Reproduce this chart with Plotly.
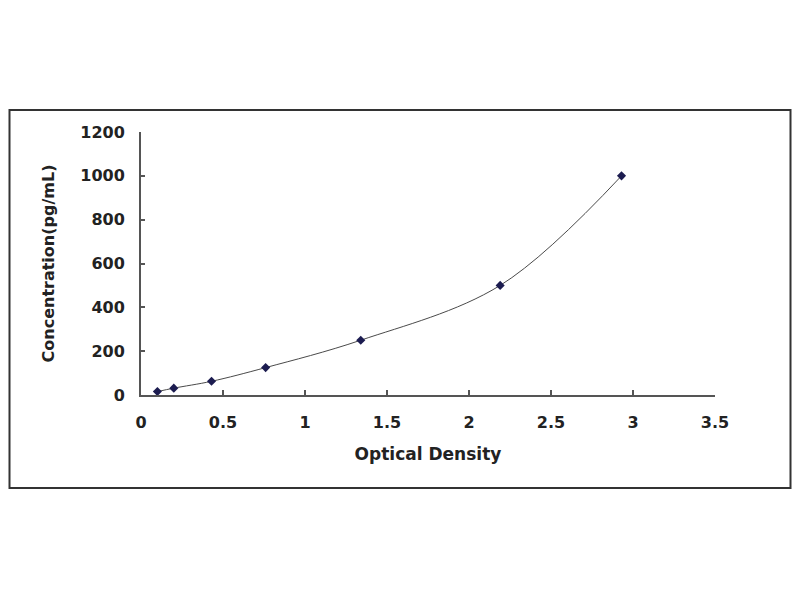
import plotly.graph_objects as go

od = [0.10, 0.20, 0.43, 0.76, 1.34, 2.19, 2.93]
conc = [15.6, 31.25, 62.5, 125, 250, 500, 1000]
x_ticks = [0, 0.5, 1, 1.5, 2, 2.5, 3, 3.5]
x_labels = ["0", "0.5", "1", "1.5", "2", "2.5", "3", "3.5"]
y_ticks = [0, 200, 400, 600, 800, 1000, 1200]

OFF = 8  # default page body margin
W, H = 800 - 2 * OFF, 600 - 2 * OFF
L, T = 141 - OFF, 132 - OFF
pw, ph = 574, 263
R, B = W - L - pw, H - T - ph

def px(xp):
    return (xp - OFF - L) / pw

def py(yp):
    return (T + ph - (yp - OFF)) / ph

fig = go.Figure()
fig.add_trace(go.Scatter(
    x=od, y=conc, mode="lines+markers",
    line=dict(shape="spline", color="#4a4a4a", width=1),
    marker=dict(symbol="diamond", size=7, color="#1c1c50"),
    showlegend=False,
))

font = dict(family="DejaVu Sans", size=16, color="#222222")
fig.update_layout(
    width=W, height=H,
    margin=dict(l=L, r=R, t=T, b=B),
    paper_bgcolor="white", plot_bgcolor="white",
    font=font,
    xaxis=dict(
        range=[0, 3.5], tickvals=x_ticks, ticktext=[f"<b>{t}</b>" for t in x_labels],
        showgrid=False, zeroline=False, showline=True, linecolor="#555555", linewidth=2,
        ticks="inside", ticklen=5, tickcolor="#555555", tickwidth=1.5,
        ticklabelstandoff=12,
        title=dict(text="<b>Optical Density</b>", standoff=17, font=dict(size=17)),
    ),
    yaxis=dict(
        range=[0, 1200], tickvals=y_ticks, ticktext=[f"<b>{t}</b>" for t in y_ticks],
        showgrid=False, zeroline=False, showline=True, linecolor="#555555", linewidth=2,
        ticks="inside", ticklen=4, tickcolor="#555555", tickwidth=1.5,
        ticklabelstandoff=11,
        title=dict(text="<b>Concentration(pg/mL)</b>", standoff=22, font=dict(size=16)),
    ),
    shapes=[dict(
        type="rect", xref="paper", yref="paper",
        x0=px(OFF + 1.5), x1=px(800 - OFF - 1.5), y0=py(488), y1=py(110),
        line=dict(color="#333333", width=2), fillcolor="rgba(0,0,0,0)",
    )],
)

fig.write_html("out.html")
